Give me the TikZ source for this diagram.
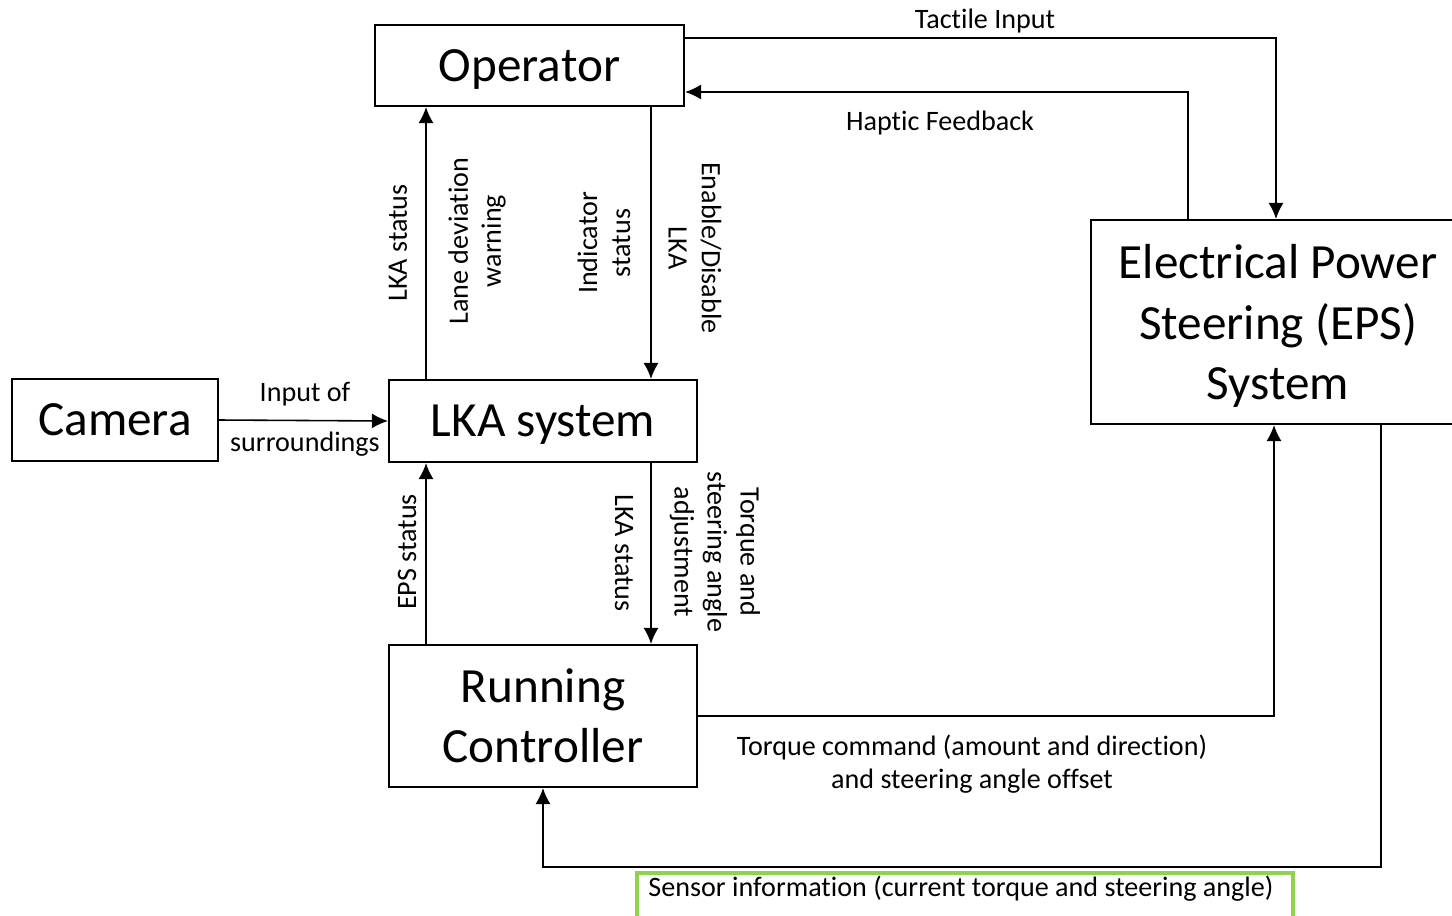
\documentclass[tikz,border=0pt]{standalone}
\usepackage{fontspec}
\setmainfont{Carlito}[Ligatures=NoCommon]
\usepackage{tikz}
\usetikzlibrary{arrows.meta}
\usepackage{xcolor}

\definecolor{sensorgreen}{RGB}{146,208,80}

\tikzset{
  block/.style={draw, line width=0.6pt, inner sep=0pt, align=center, font=\fontsize{14}{17.2}\selectfont},
  oneline/.style={text height=9pt, text depth=0pt},
  flow/.style={->, line width=0.45pt},
  lbl/.style={inner sep=0pt, align=center, font=\fontsize{8}{9.4}\selectfont},
}

\begin{document}
\begin{tikzpicture}[>={Latex[length=0.16cm,width=0.15cm]}]
\useasboundingbox (0,0) rectangle (14.52,-9.15);

% blocks
\node[block, oneline, minimum width=3.09cm, minimum height=0.81cm] (operator) at (5.295,-0.655) {Operator};
\node[block, oneline, minimum width=2.06cm, minimum height=0.82cm] (camera) at (1.15,-4.20) {Camera};
\node[block, oneline, minimum width=3.08cm, minimum height=0.82cm] (lka) at (5.43,-4.21) {LKA system};
\node[block, minimum width=3.08cm, minimum height=1.42cm] (rc) at (5.43,-7.16) {Running\\Controller};
\node[block, text depth=0pt, minimum width=3.74cm, minimum height=2.04cm] (eps) at (12.78,-3.22) {Electrical Power\\Steering (EPS)\\System};

% operator <-> lka
\draw[flow] ([xshift=-1.17cm]lka.north) -- ([xshift=-1.17cm]lka.north |- operator.south);
\draw[flow] ([xshift=1.08cm]lka.north |- operator.south) -- ([xshift=1.08cm]lka.north);
\node[lbl, rotate=90] (lka status up) at (3.98,-2.43) {LKA status};
\node[lbl, rotate=90] (lane warning) at (4.77,-2.41) {Lane deviation\\warning};
\node[lbl, rotate=90] (indicator) at (6.04,-2.43) {Indicator\\status};
\node[lbl, rotate=-90] (enable) at (6.95,-2.48) {Enable/Disable\\LKA};

% camera -> lka
\draw[flow] (camera.east) -- (lka.west);
\node[lbl] (input of) at (3.05,-3.94) {Input of};
\node[lbl] (surroundings) at (3.05,-4.44) {surroundings};

% lka <-> running controller
\draw[flow] ([xshift=-1.17cm]rc.north) -- ([xshift=-1.17cm]lka.south);
\draw[flow] ([xshift=1.08cm]lka.south) -- ([xshift=1.08cm]rc.north);
\node[lbl, rotate=90] (eps status) at (4.07,-5.52) {EPS status};
\node[lbl, rotate=-90] (lka status down) at (6.24,-5.53) {LKA status};
\node[lbl, rotate=-90] (torque adj) at (7.15,-5.52) {Torque and\\steering angle\\adjustment};

% operator <-> eps
\draw[flow] ([yshift=0.275cm]operator.east) -| ([xshift=-0.02cm]eps.north);
\node[lbl] (tactile) at (9.85,-0.21) {Tactile Input};
\draw[flow] ([xshift=-0.90cm]eps.north) |- ([yshift=-0.265cm]operator.east);
\node[lbl] (haptic) at (9.40,-1.23) {Haptic Feedback};

% running controller <-> eps
\draw[flow] (rc.east) -| ([xshift=-0.04cm]eps.south);
\node[lbl] (torque cmd) at (9.72,-7.64) {Torque command (amount and direction)\\and steering angle offset};
\draw[flow] ([xshift=1.03cm]eps.south) |- ([yshift=-0.79cm]rc.south) -- (rc.south);
\node[lbl] (sensor) at (9.61,-8.89) {Sensor information (current torque and steering angle)};
\draw[sensorgreen, line width=1.2pt] (6.37,-8.73) rectangle (12.93,-9.30);

\end{tikzpicture}
\end{document}
